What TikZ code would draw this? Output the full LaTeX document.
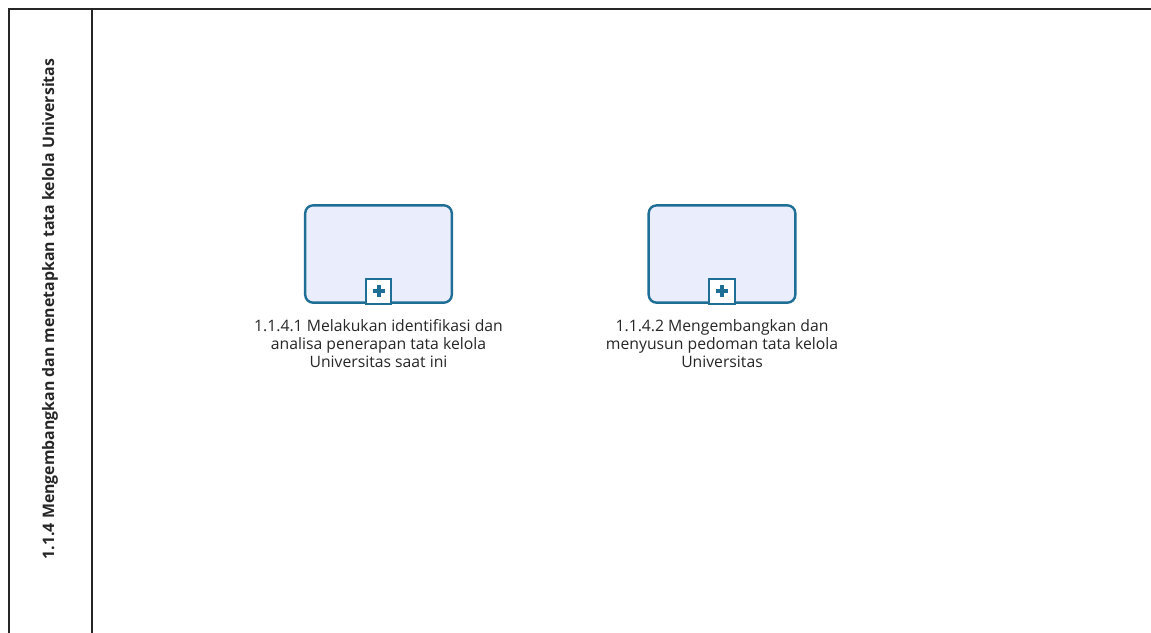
\documentclass[tikz,border=0pt]{standalone}
\usepackage{fontspec}
\setmainfont{Open Sans}
\usetikzlibrary{positioning}

\definecolor{taskblue}{RGB}{30,110,150}
\definecolor{taskfill}{RGB}{234,238,252}

\begin{document}
\begin{tikzpicture}[
    x=0.75pt, y=-0.75pt,
    pool/.style={
        draw=black!85, line width=1.5pt
    },
    task/.style={
        rectangle, rounded corners=6pt, minimum width=110pt, minimum height=73pt,
        draw=taskblue, fill=taskfill, line width=1.8pt
    },
    marker/.style={
        rectangle, minimum size=19pt, inner sep=0pt,
        draw=taskblue, fill=white, line width=1.5pt
    },
    plussign/.style={
        taskblue, line width=3pt
    },
    tasklabel/.style={
        align=center, font=\fontsize{11.8}{13.5}\selectfont, text=black!85
    },
    lanelabel/.style={
        rotate=90, font=\fontsize{11.9}{14}\selectfont\bfseries, text=black!85
    }
]
\useasboundingbox (0,0) rectangle (1151,632);

% pool and lane
\draw[pool] (9,640) -- (9,9) -- (1160,9);
\draw[pool] (92,9) -- (92,640);
\node[lanelabel] at (50,309) (lane) {1.1.4 Mengembangkan dan menetapkan tata kelola Universitas};

% sub-processes
\node[task] at (378.5,254) (t1) {};
\node[task] at (722,254) (t2) {};

\node[marker, above=0pt of t1.south, yshift=-0.9pt] (m1) {};
\node[marker, above=0pt of t2.south, yshift=-0.9pt] (m2) {};
\draw[plussign] ([yshift=-4.5pt]m1.center) -- ([yshift=4.5pt]m1.center)
                ([xshift=-4.5pt]m1.center) -- ([xshift=4.5pt]m1.center);
\draw[plussign] ([yshift=-4.5pt]m2.center) -- ([yshift=4.5pt]m2.center)
                ([xshift=-4.5pt]m2.center) -- ([xshift=4.5pt]m2.center);

\node[tasklabel, below=8pt of t1] (l1) {1.1.4.1 Melakukan identifikasi dan\\analisa penerapan tata kelola\\Universitas saat ini};
\node[tasklabel, below=8pt of t2] (l2) {1.1.4.2 Mengembangkan dan\\menyusun pedoman tata kelola\\Universitas};

\end{tikzpicture}
\end{document}
